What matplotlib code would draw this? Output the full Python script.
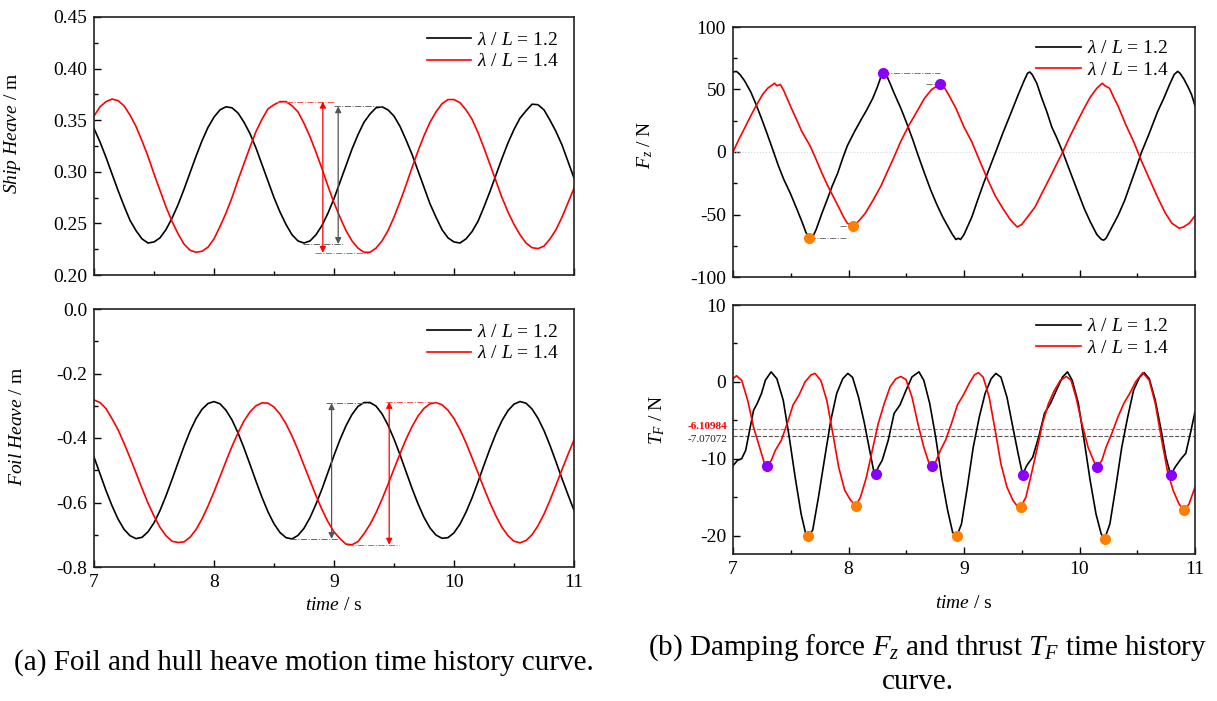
import numpy as np
import matplotlib
matplotlib.use("Agg")
import matplotlib.pyplot as plt
from matplotlib.ticker import MultipleLocator

plt.rcParams['font.family'] = ['Liberation Serif', 'DejaVu Serif']
plt.rcParams['mathtext.fontset'] = 'custom'
plt.rcParams['mathtext.rm'] = 'Liberation Serif'
plt.rcParams['mathtext.it'] = 'Liberation Serif:italic'
plt.rcParams['axes.unicode_minus'] = False

# time grid of the heave curves (read every 0.05 s)
t_heave = np.round(np.arange(7.0, 11.0001, 0.05), 3)

ship_12 = [0.342, 0.329, 0.314, 0.298, 0.282, 0.267, 0.253, 0.243, 0.235, 0.231,
           0.232, 0.236, 0.244, 0.255, 0.268, 0.283, 0.299, 0.315, 0.330, 0.343,
           0.353, 0.360, 0.363, 0.362, 0.357, 0.348, 0.337, 0.323, 0.307, 0.291,
           0.275, 0.261, 0.249, 0.239, 0.233, 0.231, 0.233, 0.239, 0.248, 0.260,
           0.274, 0.290, 0.306, 0.322, 0.336, 0.348, 0.356, 0.362, 0.363, 0.360,
           0.354, 0.344, 0.331, 0.317, 0.301, 0.285, 0.269, 0.256, 0.244, 0.236,
           0.232, 0.231, 0.235, 0.242, 0.252, 0.266, 0.281, 0.297, 0.313, 0.328,
           0.341, 0.352, 0.359, 0.3655, 0.365, 0.360, 0.350, 0.339, 0.326, 0.310,
           0.294]
ship_14 = [0.354, 0.363, 0.368, 0.3705, 0.369, 0.364, 0.355, 0.344, 0.330, 0.315,
           0.298, 0.282, 0.266, 0.252, 0.240, 0.230, 0.224, 0.222, 0.223, 0.227,
           0.235, 0.247, 0.260, 0.275, 0.292, 0.308, 0.324, 0.339, 0.351, 0.361,
           0.365, 0.368, 0.368, 0.364, 0.358, 0.347, 0.334, 0.319, 0.303, 0.286,
           0.270, 0.256, 0.243, 0.233, 0.226, 0.222, 0.222, 0.226, 0.233, 0.243,
           0.256, 0.271, 0.287, 0.304, 0.320, 0.335, 0.348, 0.358, 0.366, 0.370,
           0.370, 0.367, 0.360, 0.351, 0.338, 0.323, 0.307, 0.291, 0.275, 0.261,
           0.249, 0.239, 0.231, 0.2265, 0.2256, 0.228, 0.235, 0.244, 0.256, 0.270,
           0.284]
foil_12 = [-0.459, -0.511, -0.563, -0.610, -0.651, -0.683, -0.703, -0.712, -0.708, -0.691,
           -0.663, -0.625, -0.579, -0.529, -0.477, -0.426, -0.379, -0.340, -0.311, -0.293,
           -0.287, -0.294, -0.314, -0.344, -0.384, -0.431, -0.482, -0.534, -0.584, -0.629,
           -0.666, -0.693, -0.709, -0.713, -0.702, -0.680, -0.647, -0.605, -0.558, -0.506,
           -0.454, -0.405, -0.362, -0.327, -0.302, -0.290, -0.290, -0.301, -0.325, -0.360,
           -0.403, -0.452, -0.504, -0.556, -0.604, -0.646, -0.679, -0.701, -0.711, -0.709,
           -0.694, -0.667, -0.630, -0.586, -0.536, -0.484, -0.433, -0.386, -0.346, -0.315,
           -0.295, -0.287, -0.292, -0.310, -0.339, -0.377, -0.423, -0.474, -0.526, -0.576,
           -0.624]
foil_14 = [-0.282, -0.290, -0.309, -0.340, -0.374, -0.416, -0.461, -0.508, -0.556, -0.602,
           -0.642, -0.677, -0.703, -0.720, -0.724, -0.722, -0.708, -0.684, -0.651, -0.611,
           -0.567, -0.520, -0.472, -0.426, -0.384, -0.347, -0.319, -0.300, -0.291, -0.292,
           -0.304, -0.326, -0.356, -0.394, -0.437, -0.485, -0.532, -0.579, -0.622, -0.660,
           -0.691, -0.712, -0.729, -0.731, -0.721, -0.697, -0.668, -0.632, -0.590, -0.544,
           -0.496, -0.449, -0.404, -0.365, -0.332, -0.308, -0.294, -0.290, -0.297, -0.314,
           -0.340, -0.374, -0.415, -0.461, -0.508, -0.556, -0.601, -0.642, -0.677, -0.703,
           -0.720, -0.725, -0.718, -0.700, -0.672, -0.636, -0.593, -0.546, -0.498, -0.451,
           -0.406]

# damping force F_z (t, N)
fz_12 = [(7.00, 64), (7.03, 64.5), (7.06, 62), (7.10, 57), (7.154, 48), (7.20, 38), (7.25, 26),
         (7.29, 16), (7.34, 3), (7.393, -11), (7.44, -22), (7.496, -33), (7.55, -45), (7.598, -56),
         (7.63, -64), (7.66, -69), (7.69, -68), (7.72, -62), (7.77, -49), (7.82, -37), (7.86, -27),
         (7.906, -17), (7.95, -5), (7.99, 5), (8.05, 16), (8.11, 26), (8.16, 34), (8.21, 43),
         (8.25, 52), (8.28, 60), (8.30, 64), (8.32, 63.5), (8.35, 57), (8.40, 46), (8.453, 35),
         (8.50, 24), (8.556, 10), (8.60, -2), (8.658, -17), (8.71, -30), (8.76, -41), (8.81, -51),
         (8.863, -60), (8.90, -66), (8.93, -70), (8.95, -69), (8.97, -70), (9.00, -66), (9.068, -52),
         (9.12, -38), (9.17, -25), (9.22, -13), (9.27, -1), (9.34, 16), (9.41, 32), (9.47, 46),
         (9.52, 57), (9.55, 63), (9.57, 64), (9.59, 62), (9.63, 55), (9.67, 44), (9.718, 32),
         (9.76, 20), (9.80, 12), (9.855, 0), (9.92, -16), (9.99, -33), (10.04, -45), (10.094, -56),
         (10.15, -66), (10.19, -70), (10.21, -70.5), (10.23, -69), (10.27, -62), (10.333, -51),
         (10.39, -39), (10.436, -27), (10.49, -13), (10.538, 0), (10.60, 14), (10.675, 32),
         (10.73, 43), (10.78, 54), (10.82, 62), (10.85, 64.5), (10.87, 63), (10.90, 59),
         (10.94, 52), (10.97, 46), (11.00, 37)]
fz_14 = [(7.00, 0), (7.05, 10), (7.10, 19), (7.154, 29), (7.20, 37), (7.256, 46), (7.30, 51),
         (7.36, 55), (7.38, 53), (7.41, 54), (7.44, 49), (7.496, 37), (7.55, 26), (7.598, 16),
         (7.667, 5), (7.72, -6), (7.77, -17), (7.82, -27), (7.87, -36), (7.92, -45), (7.957, -52),
         (7.99, -57), (8.026, -59), (8.06, -58), (8.10, -54), (8.145, -49), (8.21, -39), (8.282, -27),
         (8.33, -17), (8.385, -6), (8.45, 8), (8.521, 21), (8.59, 32), (8.658, 43), (8.72, 50),
         (8.77, 53), (8.795, 54), (8.82, 53), (8.86, 47), (8.93, 35), (9.00, 20), (9.068, 8),
         (9.14, -8), (9.205, -22), (9.27, -35), (9.342, -46), (9.40, -54), (9.46, -60), (9.50, -58),
         (9.55, -52), (9.615, -44), (9.68, -32), (9.752, -19), (9.80, -10), (9.855, 0), (9.92, 13),
         (9.99, 26), (10.04, 35), (10.094, 44), (10.15, 51), (10.197, 55), (10.22, 53), (10.26, 51),
         (10.30, 43), (10.333, 37), (10.40, 22), (10.47, 8), (10.54, -8), (10.607, -22),
         (10.68, -37), (10.744, -49), (10.80, -57), (10.863, -61), (10.90, -60), (10.95, -57),
         (11.00, -51)]

# thrust T_F (t, N)
tf_12 = [(7.00, -10.9), (7.04, -10.2), (7.075, -10.0), (7.11, -8.9), (7.144, -6.3), (7.178, -3.7),
         (7.21, -2.8), (7.247, -1.5), (7.28, 0.2), (7.33, 1.3), (7.38, 0.4), (7.435, -2.4),
         (7.487, -7.2), (7.538, -12.4), (7.59, -17.2), (7.63, -19.8), (7.65, -20.1), (7.69, -19.3),
         (7.74, -15.0), (7.795, -9.8), (7.847, -5.0), (7.898, -1.5), (7.95, 0.4), (7.994, 1.1),
         (8.035, 0.6), (8.087, -2.0), (8.138, -5.4), (8.183, -8.9), (8.217, -11.5), (8.234, -12.0),
         (8.258, -11.1), (8.292, -10.2), (8.344, -7.6), (8.395, -4.1), (8.446, -3.0), (8.498, -1.1),
         (8.55, 0.65), (8.61, 1.3), (8.652, 0.2), (8.703, -2.8), (8.755, -7.2), (8.806, -12.4),
         (8.858, -16.7), (8.902, -19.6), (8.937, -20.1), (8.978, -18.5), (9.029, -13.7),
         (9.08, -8.5), (9.132, -4.6), (9.183, -1.5), (9.235, 0.4), (9.276, 1.1), (9.32, 0.6),
         (9.372, -2.0), (9.423, -5.9), (9.468, -9.3), (9.502, -11.7), (9.509, -12.0),
         (9.543, -10.9), (9.595, -9.8), (9.646, -7.2), (9.697, -4.1), (9.749, -2.8), (9.80, -1.1),
         (9.852, 0.6), (9.896, 1.3), (9.937, 0.2), (9.99, -2.8), (10.04, -7.6), (10.092, -12.8),
         (10.143, -17.2), (10.188, -19.8), (10.218, -20.4), (10.263, -18.5), (10.314, -13.7),
         (10.366, -8.5), (10.417, -4.6), (10.468, -1.1), (10.52, 0.6), (10.56, 1.2), (10.604, 0.4),
         (10.656, -2.4), (10.707, -6.3), (10.748, -9.8), (10.782, -11.7), (10.794, -12.0),
         (10.828, -11.1), (10.88, -10.0), (10.92, -9.3), (10.966, -6.3), (11.00, -3.9)]
tf_14 = [(7.00, 0.4), (7.03, 0.8), (7.075, 0.2), (7.127, -2.4), (7.178, -5.9), (7.23, -8.5),
         (7.274, -10.7), (7.295, -11.0), (7.332, -10.2), (7.367, -8.9), (7.418, -7.6), (7.47, -5.4),
         (7.52, -3.0), (7.572, -1.7), (7.624, 0.0), (7.675, 0.9), (7.71, 1.1), (7.76, 0.2),
         (7.812, -2.4), (7.864, -6.7), (7.915, -11.1), (7.967, -14.1), (8.018, -15.4),
         (8.063, -16.1), (8.104, -15.0), (8.155, -12.4), (8.206, -8.9), (8.258, -5.4), (8.31, -2.8),
         (8.36, -0.65), (8.41, 0.4), (8.453, 0.7), (8.498, 0.3), (8.55, -2.0), (8.60, -5.4),
         (8.652, -8.5), (8.693, -10.4), (8.72, -11.0), (8.755, -10.4), (8.796, -8.9), (8.84, -7.6),
         (8.892, -5.4), (8.943, -3.0), (8.995, -1.7), (9.046, -0.2), (9.09, 0.9), (9.125, 1.2),
         (9.166, 0.6), (9.218, -2.0), (9.27, -6.3), (9.32, -10.7), (9.372, -13.7), (9.423, -15.4),
         (9.457, -16.1), (9.49, -16.3), (9.536, -15.0), (9.577, -12.4), (9.63, -8.9), (9.68, -5.4),
         (9.732, -2.8), (9.783, -1.1), (9.835, 0.2), (9.886, 0.7), (9.927, 0.2), (9.97, -2.0),
         (10.02, -5.4), (10.074, -8.5), (10.126, -10.4), (10.153, -11.1), (10.194, -10.2),
         (10.23, -8.5), (10.28, -6.7), (10.332, -4.6), (10.384, -2.8), (10.435, -1.5),
         (10.486, 0.0), (10.548, 1.2), (10.604, 0.2), (10.656, -2.8), (10.707, -7.2), (10.76, -11.5),
         (10.81, -14.1), (10.862, -15.9), (10.907, -16.7), (10.948, -15.9), (11.00, -13.7)]

# marked extrema
fz_peaks = [(8.30, 63.5), (8.795, 54)]
fz_troughs = [(7.655, -69), (8.035, -59)]
tf_shallow = [(7.295, -11.0), (8.234, -12.0), (8.72, -11.0), (9.509, -12.1), (10.153, -11.1), (10.794, -12.1)]
tf_deep = [(7.65, -20.1), (8.063, -16.1), (8.937, -20.1), (9.49, -16.3), (10.218, -20.4), (10.907, -16.7)]
tf_mean_12 = -7.07072
tf_mean_14 = -6.10984

# range arrows: (t_arrow, top, bottom, top line t0, t1, bottom line t0, t1)
ship_range_14 = (8.907, 0.368, 0.2215, 8.52, 9.00, 8.84, 9.28)
ship_range_12 = (9.035, 0.3635, 0.230, 9.00, 9.40, 8.74, 9.08)
foil_range_12 = (8.98, -0.292, -0.713, 8.93, 9.29, 8.636, 9.03)
foil_range_14 = (9.46, -0.288, -0.731, 9.43, 9.86, 9.11, 9.54)

labels = [r'$\lambda$ / $L$ = 1.2', r'$\lambda$ / $L$ = 1.4']
black, red = '#000000', '#ff0000'
purple, orange = '#8a00ff', '#ff8000'

fig = plt.figure(figsize=(12.17, 7.01), dpi=100)
W, H = 1217, 701


def box(l, t, r, b):
    return [l / W, 1 - b / H, (r - l) / W, (b - t) / H]


ax1 = fig.add_axes(box(94, 17, 574, 275))
ax2 = fig.add_axes(box(94, 309, 574, 567))
ax3 = fig.add_axes(box(733, 27, 1195, 277))
ax4 = fig.add_axes(box(733, 305, 1195, 554))


def style(ax, ylim, major, minor, show_x, handles, anchor):
    ax.set_xlim(7, 11)
    ax.set_ylim(*ylim)
    ax.xaxis.set_major_locator(MultipleLocator(1))
    ax.xaxis.set_minor_locator(MultipleLocator(0.5))
    ax.yaxis.set_major_locator(MultipleLocator(major))
    ax.yaxis.set_minor_locator(MultipleLocator(minor))
    ax.tick_params(which='both', direction='in', top=False, right=False, labelsize=14, pad=5)
    ax.tick_params(which='major', length=5, width=1)
    ax.tick_params(which='minor', length=3, width=1)
    for s in ax.spines.values():
        s.set_linewidth(1.2)
        s.set_color('#222222')
    if not show_x:
        ax.tick_params(labelbottom=False)
    ax.legend(handles, labels, loc='upper right', bbox_to_anchor=anchor, frameon=False,
              fontsize=14, handlelength=2.3, handletextpad=0.3, labelspacing=0.2,
              borderaxespad=0.0)


def range_arrow(ax, r, color, lcolor):
    ta, top, bot, a0, a1, b0, b1 = r
    ax.plot([a0, a1], [top, top], ls='-.', lw=0.7, color=lcolor)
    ax.plot([b0, b1], [bot, bot], ls='-.', lw=0.7, color=lcolor)
    ax.annotate('', xy=(ta, top), xytext=(ta, bot),
                arrowprops=dict(arrowstyle='<|-|>', color=color, lw=0.9,
                                mutation_scale=9, shrinkA=0, shrinkB=0))


# (a) ship heave
h1 = ax1.plot(t_heave, ship_12, color=black, lw=1.2)
h2 = ax1.plot(t_heave, ship_14, color=red, lw=1.2)
range_arrow(ax1, ship_range_14, red, '#ff5050')
range_arrow(ax1, ship_range_12, '#555555', '#666666')
style(ax1, (0.20, 0.45), 0.05, 0.025, False, h1 + h2, (0.985, 0.975))
ax1.set_ylabel(r'$\mathit{Ship\ Heave}$ / m', fontsize=14)
ax1.yaxis.set_label_coords(-0.148, 0.55)

# (a) foil heave
h1 = ax2.plot(t_heave, foil_12, color=black, lw=1.2)
h2 = ax2.plot(t_heave, foil_14, color=red, lw=1.2)
range_arrow(ax2, foil_range_12, '#555555', '#666666')
range_arrow(ax2, foil_range_14, red, '#ff5050')
style(ax2, (-0.8, 0.0), 0.2, 0.1, False, h1 + h2, (0.985, 0.975))
ax2.tick_params(labelbottom=True)
ax2.set_ylabel(r'$\mathit{Foil\ Heave}$ / m', fontsize=14)
ax2.yaxis.set_label_coords(-0.141, 0.546)
ax2.set_xlabel(r'$\mathit{time}$ / s', fontsize=14, labelpad=4)

# (b) damping force
ax3.axhline(0, color='#d8d8d8', lw=0.8, ls=':')
t, v = zip(*fz_12)
h1 = ax3.plot(t, v, color=black, lw=1.2)
t, v = zip(*fz_14)
h2 = ax3.plot(t, v, color=red, lw=1.2)
(pa, pv), (pb, pw) = fz_peaks
ax3.plot([pa, pb], [pv, pv], ls='-.', lw=0.7, color='#777777')
ax3.plot([pb - 0.12, pb], [pw, pw], ls='-.', lw=0.7, color='#777777')
(qa, qv), (qb, qw) = fz_troughs
ax3.plot([qa, qb - 0.04], [qv, qv], ls='-.', lw=0.7, color='#777777')
ax3.plot([qb - 0.11, qb], [qw, qw], ls='-.', lw=0.7, color='#777777')
ax3.plot(*zip(*fz_peaks), 'o', color=purple, ms=7, zorder=5)
ax3.plot(*zip(*fz_troughs), 'o', color=orange, ms=7, zorder=5)
style(ax3, (-100, 100), 50, 25, False, h1 + h2, (0.96, 0.98))
ax3.set_ylabel(r'$F_z$ / N', fontsize=14)
ax3.yaxis.set_label_coords(-0.169, 0.53)

# (b) thrust
ax4.axhline(tf_mean_14, color='#ff5050', lw=0.8, ls='--')
ax4.axhline(tf_mean_12, color='#555555', lw=0.8, ls='--')
t, v = zip(*tf_12)
h1 = ax4.plot(t, v, color=black, lw=1.2)
t, v = zip(*tf_14)
h2 = ax4.plot(t, v, color=red, lw=1.2)
ax4.plot(*zip(*tf_shallow), 'o', color=purple, ms=7, zorder=5)
ax4.plot(*zip(*tf_deep), 'o', color=orange, ms=7, zorder=5)
style(ax4, (-22.4, 10), 10, 5, True, h1 + h2, (0.96, 0.98))
ax4.set_ylabel(r'$T_F$ / N', fontsize=14)
ax4.yaxis.set_label_coords(-0.143, 0.54)
ax4.set_xlabel(r'$\mathit{time}$ / s', fontsize=14, labelpad=12)
ax4.text(-0.012, tf_mean_14 + 0.35, '%.5f' % tf_mean_14, transform=ax4.get_yaxis_transform(),
         ha='right', va='center', fontsize=8, color='#ff0000', fontweight='bold')
ax4.text(-0.012, tf_mean_12 - 0.45, '%.5f' % tf_mean_12, transform=ax4.get_yaxis_transform(),
         ha='right', va='center', fontsize=8, color='#222222')

# captions
fig.text(304 / W, 1 - 663 / H, '(a) Foil and hull heave motion time history curve.',
         ha='center', va='center', fontsize=21)
fig.text(928 / W, 1 - 648 / H, r'(b) Damping force $F_{z}$ and thrust $T_{F}$ time history',
         ha='center', va='center', fontsize=21)
fig.text(918 / W, 1 - 682 / H, 'curve.', ha='center', va='center', fontsize=21)

fig.savefig('out.png', dpi=100)
